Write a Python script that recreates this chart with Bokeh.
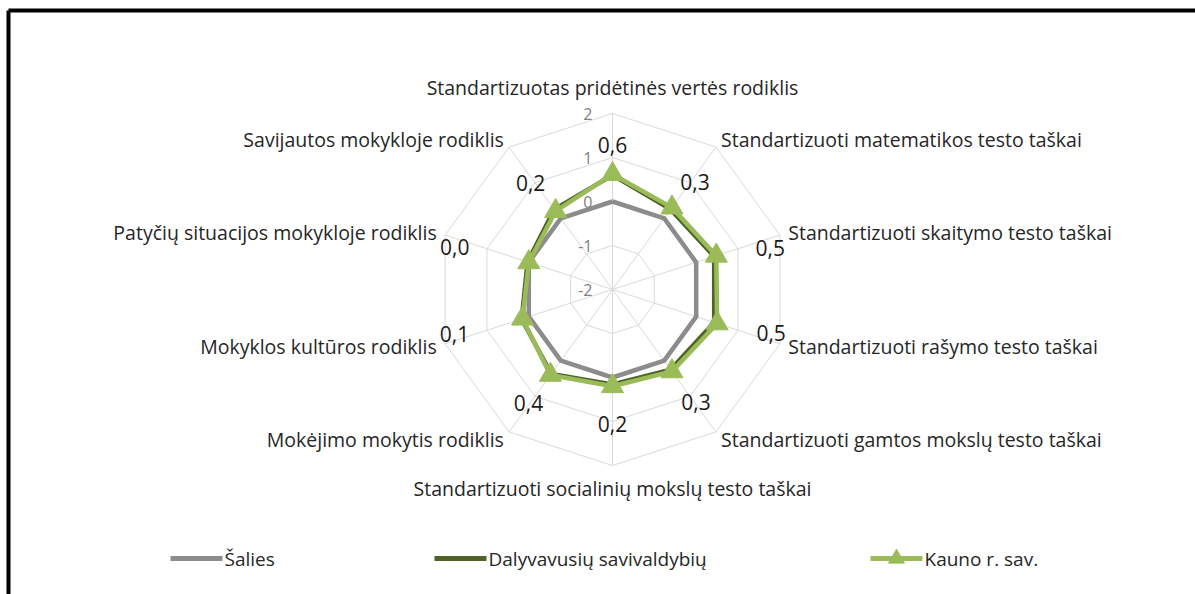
import numpy as np
from bokeh.plotting import figure
from bokeh.models import ColumnDataSource, Range1d
from bokeh.core.properties import value
from bokeh.embed import file_html
from bokeh.resources import INLINE

# ---------------- data ----------------
categories = [
    "Standartizuotas pridėtinės vertės rodiklis",
    "Standartizuoti matematikos testo taškai",
    "Standartizuoti skaitymo testo taškai",
    "Standartizuoti rašymo testo taškai",
    "Standartizuoti gamtos mokslų testo taškai",
    "Standartizuoti socialinių mokslų testo taškai",
    "Mokėjimo mokytis rodiklis",
    "Mokyklos kultūros rodiklis",
    "Patyčių situacijos mokykloje rodiklis",
    "Savijautos mokykloje rodiklis",
]
salies = [0.0, 0.0, 0.0, 0.0, 0.0, 0.0, 0.0, 0.0, 0.0, 0.0]
dalyvavusiu = [0.60, 0.25, 0.43, 0.43, 0.25, 0.16, 0.37, 0.17, 0.03, 0.25]
kauno = [0.62, 0.30, 0.48, 0.50, 0.30, 0.20, 0.40, 0.15, 0.00, 0.20]
kauno_labels = ["0,6", "0,3", "0,5", "0,5", "0,3", "0,2", "0,4", "0,1", "0,0", "0,2"]
ticks = [-2, -1, 0, 1, 2]
series_names = ["Šalies", "Dalyvavusių savivaldybių", "Kauno r. sav."]

# ---------------- layout ----------------
FONT = "Open Sans"
W, H = 1195, 594
CX, CY, S = 612.0, 289.0, 44.0   # page-pixel centre and pixels per unit
rmin = ticks[0]
n = len(categories)
ang = np.pi / 2 - np.arange(n) * 2 * np.pi / n


def px(X, Y):
    return (X - CX) / S, (CY - Y) / S


def polar(vals):
    r = np.asarray(vals, dtype=float) - rmin
    return list(r * np.cos(ang)), list(r * np.sin(ang))


p = figure(width=W, height=H, output_backend="svg", toolbar_location=None,
           x_range=Range1d(-CX / S, (W - CX) / S),
           y_range=Range1d((CY - H) / S, CY / S),
           min_border=0)
p.axis.visible = False
p.grid.visible = False
p.outline_line_color = None
p.background_fill_color = "white"
p.border_fill_color = "white"

# frame border (top and left visible in the reference)
x0, y0 = px(8, 10)
x1, _ = px(1210, 10)
_, y1 = px(8, 610)
p.line([x0, x1], [y0, y0], line_color="black", line_width=4)
p.line([x0, x0], [y0, y1], line_color="black", line_width=4)

# grid rings
for t in ticks[1:]:
    gx, gy = polar([t] * n)
    p.line(gx + gx[:1], gy + gy[:1], line_color="#d9d9d9", line_width=1)
# spokes
ox, oy = polar([ticks[-1]] * n)
p.segment(x0=[0] * n, y0=[0] * n, x1=ox, y1=oy, line_color="#d9d9d9", line_width=1)

# tick labels
tsrc = ColumnDataSource(dict(x=[-20 / S] * len(ticks), y=[t - rmin for t in ticks],
                             text=[str(t) for t in ticks]))
p.text(x="x", y="y", text="text", source=tsrc, text_align="right",
       text_baseline="middle", text_color="#808080", text_font_size="16px",
       text_font=value(FONT))

# series
colors = ["#8c8c8c", "#4f6228", "#9bbb59"]
for vals, col in zip([salies, dalyvavusiu, kauno], colors):
    sx, sy = polar(vals)
    p.line(sx + sx[:1], sy + sy[:1], line_color=col, line_width=4.5,
           line_join="round")
kx, ky = polar(kauno)
p.scatter(kx, ky, marker="triangle", size=22, fill_color="#9bbb59",
          line_color="#9bbb59")

# data labels
offx = [0, 23, 54, 54, 24, 0, -22, -68, -74, -25]
offy = [-29, -26, -8, 10, 31, 38, 28, 15, -15, -28]
dsrc = ColumnDataSource(dict(x=kx, y=ky, text=kauno_labels, xo=offx, yo=offy))
p.text(x="x", y="y", text="text", source=dsrc, x_offset="xo", y_offset="yo",
       text_align="center", text_baseline="middle", text_color="#1a1a1a",
       text_font_size="21px", text_font=value(FONT))

# category labels
rl = 4.2
lx = list(rl * np.cos(ang))
ly = list(rl * np.sin(ang))
aligns, bases = [], []
for i in range(n):
    c = np.cos(ang[i])
    if abs(c) < 1e-6:
        aligns.append("center")
        bases.append("bottom" if np.sin(ang[i]) > 0 else "top")
    else:
        aligns.append("left" if c > 0 else "right")
        bases.append("middle")
ly[0] = 4.28
ly[5] = -4.22
csrc = ColumnDataSource(dict(x=lx, y=ly, text=categories, align=aligns, base=bases))
p.text(x="x", y="y", text="text", source=csrc, text_align="align",
       text_baseline="base", text_color="#262626", text_font_size="19.5px",
       text_font=value(FONT))

# legend
leg_y = 558
leg_line_x = [(170, 222), (434, 486), (870, 922)]
for (a, b), col, name, k in zip(leg_line_x, colors, series_names, range(3)):
    xa, yy = px(a, leg_y)
    xb, _ = px(b, leg_y)
    p.line([xa, xb], [yy, yy], line_color=col, line_width=5)
    if k == 2:
        p.scatter([(xa + xb) / 2], [yy], marker="triangle", size=16,
                  fill_color=col, line_color=col)
    xt, _ = px(b + 2, leg_y)
    p.text(x=[xt], y=[yy], text=[name], text_align="left", text_baseline="middle",
           text_color="#262626", text_font_size="19px", text_font=value(FONT))

open("out.html", "w").write(file_html(p, INLINE))
